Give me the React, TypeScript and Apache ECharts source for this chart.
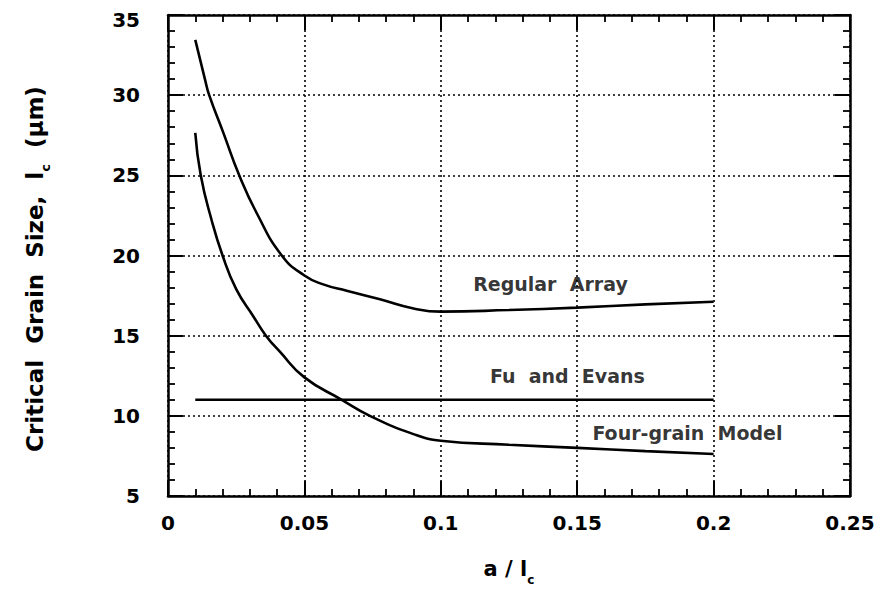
import React, { useEffect, useRef } from "react";
import * as echarts from "echarts";

// Critical grain size l_c (µm) versus a / l_c for three models
const regularArray: [number, number][] = [
  [0.01, 33.45], [0.0136, 30.95], [0.0151, 30.0], [0.0203, 27.65], [0.0261, 25.0],
  [0.0325, 22.65], [0.0417, 20.0], [0.05, 18.75], [0.0569, 18.2], [0.0655, 17.8],
  [0.0777, 17.27], [0.09, 16.7], [0.1, 16.5], [0.125, 16.6], [0.15, 16.75],
  [0.175, 16.95], [0.2, 17.12],
];

const fourGrain: [number, number][] = [
  [0.01, 27.65], [0.012, 25.0], [0.016, 22.2], [0.02, 20.0], [0.025, 17.9],
  [0.0313, 16.2], [0.0359, 15.0], [0.041, 14.0], [0.05, 12.4], [0.0637, 11.0],
  [0.074, 10.0], [0.09, 8.86], [0.1, 8.45], [0.125, 8.2], [0.15, 8.0],
  [0.175, 7.8], [0.2, 7.62],
];

const fuEvans: [number, number][] = [
  [0.01, 11.0], [0.2, 11.0],
];

// Curve captions, anchored in data coordinates
const captions: { text: string; at: [number, number] }[] = [
  { text: "Regular  Array", at: [0.1402, 18.2] },
  { text: "Fu  and  Evans", at: [0.1464, 12.47] },
  { text: "Four-grain  Model", at: [0.1904, 8.93] },
];

const xTicks = { min: 0, max: 0.25, interval: 0.05 };
const yTicks = { min: 5, max: 35, interval: 5 };

const FONT = "'DejaVu Sans', 'Liberation Sans', Arial, sans-serif";

export default function App() {
  const ref = useRef<HTMLDivElement>(null);

  useEffect(() => {
    if (!ref.current) return;
    const chart = echarts.init(ref.current, undefined, { renderer: "svg" });

    const tickLabel = {
      color: "#000",
      fontFamily: FONT,
      fontWeight: "bold" as const,
      fontSize: 20,
    };

    const frameAxis = (extra: any) => ({
      axisLine: { show: true, onZero: false, lineStyle: { color: "#000", width: 2.5 } },
      axisTick: { show: true, inside: true, length: 15, lineStyle: { color: "#000", width: 2 } },
      minorTick: { show: true, splitNumber: 5, length: 7, lineStyle: { color: "#000", width: 1.8 } },
      ...extra,
    });

    const lineSeries = (name: string, data: [number, number][], smooth: number | boolean) => ({
      name,
      type: "line",
      data,
      smooth,
      symbol: "none",
      lineStyle: { color: "#000", width: 2.6 },
      z: 5,
    });

    const titleRich = (size: number, subSize: number) => ({
      t: { fontFamily: FONT, fontWeight: "bold", fontSize: size, fill: "#000", color: "#000", lineHeight: 34, verticalAlign: "middle" },
      s: { fontFamily: FONT, fontWeight: "bold", fontSize: subSize, fill: "#000", color: "#000", lineHeight: 34, verticalAlign: "bottom" },
    });

    chart.setOption({
      animation: false,
      backgroundColor: "#fff",
      grid: { left: 168, right: 38, top: 15, bottom: 94 },
      xAxis: [
        frameAxis({
          type: "value",
          position: "bottom",
          ...xTicks,
          axisLabel: {
            ...tickLabel,
            margin: 17,
            formatter: (v: number) => (v === 0 ? "0" : String(+v.toFixed(2))),
          },
          splitLine: { show: true, lineStyle: { color: "#000", width: 1.6, type: [2, 3] } },
          name: "{t|a / l}{s|c}",
          nameLocation: "middle",
          nameGap: 56,
          nameTextStyle: { rich: titleRich(21, 12) },
        }),
        frameAxis({
          type: "value",
          position: "top",
          ...xTicks,
          axisLabel: { show: false },
          splitLine: { show: false },
        }),
      ],
      yAxis: [
        frameAxis({
          type: "value",
          position: "left",
          ...yTicks,
          axisLabel: {
            ...tickLabel,
            margin: 28,
            // the top label sits a little below its tick, clear of the page edge
            formatter: (v: number) => (v === yTicks.max ? `{top|${v}}` : String(v)),
            rich: { top: { ...tickLabel, padding: [9, 0, 0, 0] } },
          },
          splitLine: { show: true, lineStyle: { color: "#000", width: 1.6, type: [2, 3] } },
        }),
        frameAxis({
          type: "value",
          position: "right",
          ...yTicks,
          axisLabel: { show: false },
          splitLine: { show: false },
        }),
      ],
      graphic: [
        {
          type: "text",
          x: 35,
          y: 269,
          rotation: Math.PI / 2,
          style: {
            text: "{t|Critical  Grain  Size,  l}{s|c}{t|  (μm)}",
            rich: titleRich(23, 13),
            align: "center",
            verticalAlign: "middle",
          },
        },
      ],
      series: [
        lineSeries("Regular Array", regularArray, 0.5),
        lineSeries("Fu and Evans", fuEvans, false),
        lineSeries("Four-grain Model", fourGrain, 0.5),
        {
          name: "captions",
          type: "scatter",
          symbolSize: 0,
          data: captions.map((c) => ({ value: c.at, name: c.text })),
          label: {
            show: true,
            position: "inside",
            formatter: (p: any) => p.name,
            color: "#000",
            fontFamily: FONT,
            fontWeight: "bold",
            fontSize: 19,
          },
          z: 6,
        },
      ],
    });

    return () => chart.dispose();
  }, []);

  return (
    <div
      ref={ref}
      style={{ position: "absolute", left: 0, top: 0, width: 888, height: 591 }}
    />
  );
}
